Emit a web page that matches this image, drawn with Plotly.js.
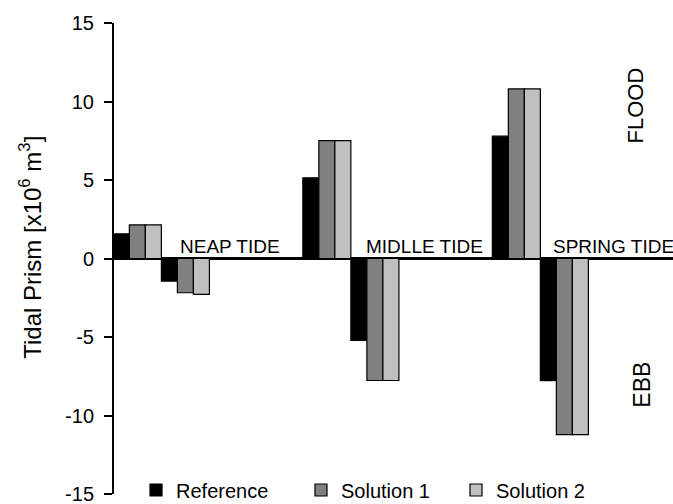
<!DOCTYPE html>
<html>
<head>
<meta charset="utf-8">
<script src="https://cdn.plot.ly/plotly-3.0.1.min.js"></script>
<style>
  html, body { margin: 0; padding: 0; background: #ffffff; }
  #chart { width: 673px; height: 504px; }
</style>
</head>
<body>
<div id="chart"></div>
<script>
// Tidal prism per tide condition, in 10^6 m^3 (flood positive, ebb negative)
const tides = ["NEAP TIDE", "MIDLLE TIDE", "SPRING TIDE"];
const seriesNames = ["Reference", "Solution 1", "Solution 2"];
const seriesColors = ["#000000", "#808080", "#c0c0c0"];

const floodReference = [1.57, 5.14, 7.79];
const floodSolution1 = [2.14, 7.51, 10.80];
const floodSolution2 = [2.14, 7.51, 10.80];

const ebbReference = [-1.44, -5.22, -7.78];
const ebbSolution1 = [-2.18, -7.77, -11.22];
const ebbSolution2 = [-2.29, -7.77, -11.22];

const yTicks = [-15, -10, -5, 0, 5, 10, 15];

const FONT = "Arial, 'Liberation Sans', sans-serif";

const floodSets = [floodReference, floodSolution1, floodSolution2];
const ebbSets = [ebbReference, ebbSolution1, ebbSolution2];

// each series gets its own legend box so the entries can be spaced freely
const legendIds = ["legend", "legend2", "legend3"];
const legendX = [0.0394, 0.3345, 0.6118];

function barTrace(values, i, inLegend) {
  return {
    type: "bar",
    x: tides,
    y: values,
    name: seriesNames[i],
    legend: legendIds[i],
    legendgroup: seriesNames[i],
    showlegend: inLegend,
    marker: { color: seriesColors[i], line: { color: "#000000", width: 1.2 } },
    hoverinfo: "skip"
  };
}

const traces = [];
floodSets.forEach((v, i) => traces.push(barTrace(v, i, true)));
ebbSets.forEach((v, i) => traces.push(barTrace(v, i, false)));

// Tide labels sit just above the zero line, right of each flood group
const labelShift = [17, 13, 11];
const annotations = tides.map((t, i) => ({
  x: t, y: 0, xref: "x", yref: "y",
  text: t, showarrow: false,
  xanchor: "left", yanchor: "bottom",
  xshift: labelShift[i], yshift: 0,
  font: { family: FONT, size: 19, color: "#000000" }
}));

annotations.push({
  xref: "paper", yref: "paper", x: 0.932, y: 0.825,
  text: "FLOOD", textangle: -90, showarrow: false,
  xanchor: "center", yanchor: "middle",
  font: { family: FONT, size: 22, color: "#000000" }
});
annotations.push({
  xref: "paper", yref: "paper", x: 0.9445, y: 0.232,
  text: "EBB", textangle: -90, showarrow: false,
  xanchor: "center", yanchor: "middle",
  font: { family: FONT, size: 23, color: "#000000" }
});
annotations.push({
  xref: "paper", yref: "paper", x: -0.150, y: 0.523,
  text: "Tidal Prism [x10<sup>6</sup> m<sup>3</sup>]", textangle: -90, showarrow: false,
  xanchor: "center", yanchor: "middle",
  font: { family: FONT, size: 24, color: "#000000" }
});

function legendBox(x) {
  return {
    orientation: "h",
    xref: "paper", yref: "paper",
    x: x, y: 0.0085,
    xanchor: "left", yanchor: "middle",
    bgcolor: "rgba(0,0,0,0)",
    borderwidth: 0,
    font: { family: FONT, size: 20, color: "#000000" }
  };
}

const layout = {
  width: 673,
  height: 504,
  margin: { l: 114, r: 0, t: 23, b: 10, pad: 0, autoexpand: false },
  paper_bgcolor: "#ffffff",
  plot_bgcolor: "#ffffff",
  barmode: "group",
  bargap: 0.493,
  bargroupgap: 0,
  showlegend: true,
  legend: legendBox(legendX[0]),
  legend2: legendBox(legendX[1]),
  legend3: legendBox(legendX[2]),
  xaxis: {
    type: "category",
    range: [-0.25, 2.70],
    showticklabels: false,
    showline: false,
    showgrid: false,
    zeroline: false,
    ticks: ""
  },
  yaxis: {
    range: [-15, 15],
    tickvals: yTicks,
    ticktext: yTicks.map(String),
    ticks: "outside",
    ticklen: 8,
    tickwidth: 2,
    tickcolor: "#000000",
    ticklabelstandoff: 6,
    ticklabeloverflow: "allow",
    showline: true,
    linecolor: "#000000",
    linewidth: 2,
    showgrid: false,
    zeroline: true,
    zerolinecolor: "#000000",
    zerolinewidth: 3,
    tickfont: { family: FONT, size: 20, color: "#000000" }
  },
  annotations: annotations
};

Plotly.newPlot("chart", traces, layout, { displayModeBar: false, staticPlot: true });
</script>
</body>
</html>
